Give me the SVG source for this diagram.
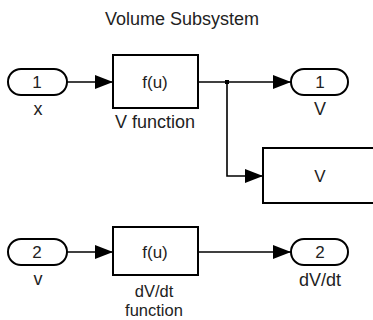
<svg xmlns="http://www.w3.org/2000/svg" width="373" height="320" viewBox="0 0 373 320">
<defs>
<marker id="arr" markerWidth="18" markerHeight="14" refX="18" refY="7" orient="auto" markerUnits="userSpaceOnUse">
<path d="M0,0 L18,7 L0,14 Z" fill="#000"/>
</marker>
<style>
text{font-family:"Liberation Sans",Arial,sans-serif;fill:#222;text-anchor:middle}
.blk{fill:#fff;stroke:#000;stroke-width:2}
.port{fill:#fff;stroke:#000;stroke-width:2}
.ln{fill:none;stroke:#000;stroke-width:1.6}
.lbl{font-size:18px}
.in{font-size:17px}
.sm{font-size:16.5px}
</style>
</defs>
<rect width="373" height="320" fill="#fff"/>
<text x="182" y="25" style="font-size:18px">Volume Subsystem</text>
<g id="in1">
<rect class="port" x="8" y="69" width="59" height="26" rx="13"/>
<text class="in" x="37" y="88">1</text>
<text class="lbl" x="38" y="115">x</text>
</g>
<g id="vfunc">
<rect class="blk" x="113" y="55" width="85" height="53"/>
<text class="in" x="155" y="88">f(u)</text>
<text class="lbl" x="155" y="128">V function</text>
</g>
<g id="out1">
<rect class="port" x="291" y="69" width="57" height="26" rx="13"/>
<text class="in" x="320" y="88">1</text>
<text class="lbl" x="320" y="115">V</text>
</g>
<g id="display">
<rect class="blk" x="263" y="148" width="115" height="55"/>
<text class="in" x="320" y="182">V</text>
</g>
<g id="in2">
<rect class="port" x="8" y="239" width="59" height="26" rx="13"/>
<text class="in" x="37" y="258">2</text>
<text class="lbl" x="38" y="285">v</text>
</g>
<g id="dvfunc">
<rect class="blk" x="113" y="227" width="85" height="48"/>
<text class="in" x="155" y="258">f(u)</text>
<text class="sm" x="154" y="297">dV/dt</text>
<text class="sm" x="154" y="316">function</text>
</g>
<g id="out2">
<rect class="port" x="291" y="239" width="57" height="26" rx="13"/>
<text class="in" x="320" y="258">2</text>
<text class="lbl" x="320" y="286">dV/dt</text>
</g>
<g id="connectors">
<line class="ln" x1="67" y1="82" x2="113" y2="82" marker-end="url(#arr)"/>
<line class="ln" x1="198" y1="82" x2="291" y2="82" marker-end="url(#arr)"/>
<polyline class="ln" points="227,82 227,176 263,176" marker-end="url(#arr)"/>
<rect x="225" y="80" width="4" height="4" fill="#000"/>
<line class="ln" x1="67" y1="252" x2="113" y2="252" marker-end="url(#arr)"/>
<line class="ln" x1="198" y1="252" x2="291" y2="252" marker-end="url(#arr)"/>
</g>
</svg>
